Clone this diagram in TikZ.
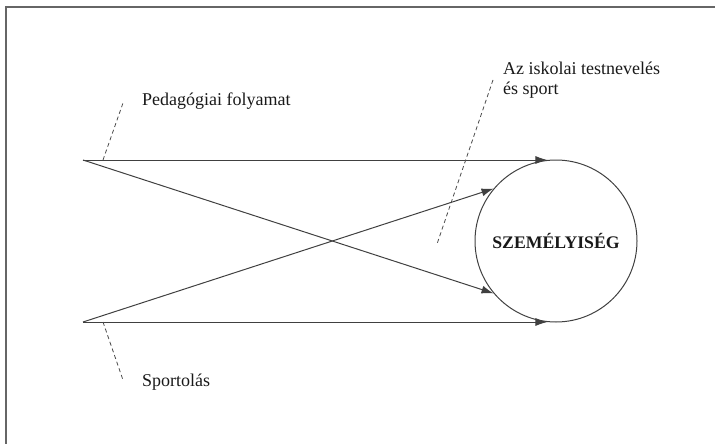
\documentclass[tikz,border=0pt]{standalone}
\usepackage{fontspec}
\setmainfont{Liberation Serif}
\usetikzlibrary{arrows.meta}
\tikzset{lbl/.style = {inner sep = 0, anchor = west, text = black!90, font = \fontsize{18}{20}\selectfont}}
\tikzset{conn/.style = {draw = black!75, line width = 1pt, -{Latex[length = 12pt, width = 8pt]}}}
\tikzset{guide/.style = {draw = black!70, line width = 0.8pt, dash pattern = on 4pt off 3pt}}
\tikzset{person/.style = {draw = black!75, line width = 1pt, circle, minimum size = 162pt, inner sep = 0,
    text = black!90, font = \bfseries\fontsize{17.7}{20}\selectfont}}

\begin{document}
\begin{tikzpicture}[x = 1pt, y = -1pt]
    \useasboundingbox (0, 0) rectangle (715, 444);
    \draw [black!60, line width = 2pt] (6, 444) -- (6, 7) -- (715, 7);

    \node [person] (pers) at (556, 241) {SZEMÉLYISÉG};

    \coordinate (ped) at (83, 160);
    \coordinate (spo) at (83, 322);

    \draw [conn] (ped) -- (ped -| pers.96);
    \draw [conn] (ped) -- (pers.-140);
    \draw [conn] (spo) -- (spo -| pers.-96);
    \draw [conn] (spo) -- (pers.140);

    \node [lbl] (pedlbl) at (142, 101) {Pedagógiai folyamat};
    \node [lbl] (spolbl) at (142, 382) {Sportolás};
    \node [lbl, align = left] (isklbl) at (503, 80) {Az iskolai testnevelés\\és sport};

    % dashed pointers
    \coordinate (pedfoot) at (103, 160);
    \coordinate (pedtop) at (123, 103);
    \coordinate (spofoot) at (103, 322);
    \coordinate (spoend) at (123, 380);
    \coordinate (isktop) at (493, 80);
    \coordinate (iskend) at (437, 244);
    \draw [guide] (pedfoot) -- (pedtop);
    \draw [guide] (spofoot) -- (spoend);
    \draw [guide] (isktop) -- (iskend);
\end{tikzpicture}
\end{document}
